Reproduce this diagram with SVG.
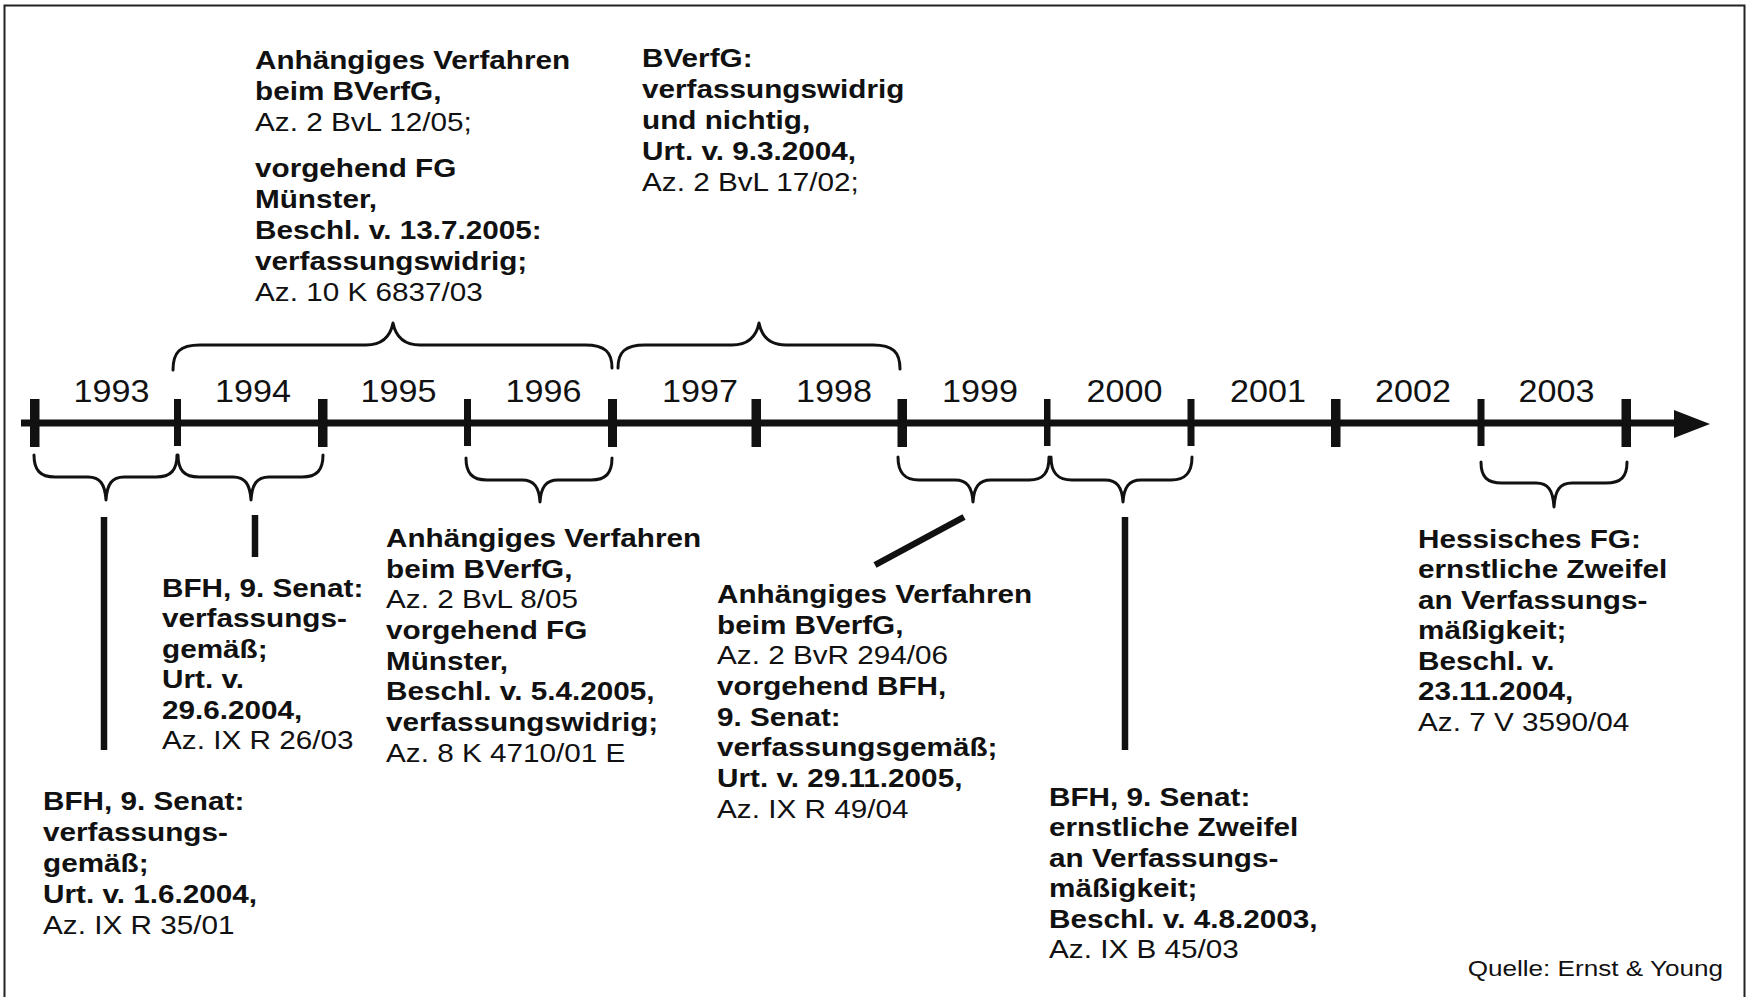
<svg xmlns="http://www.w3.org/2000/svg" width="1747" height="997" viewBox="0 0 1747 997">
<style>
  text { font-family: "Liberation Sans", Arial, sans-serif; fill: #111; }
  .t { font-size: 25.6px; }
  .b { font-weight: bold; }
  .r { font-weight: normal; }
  .yr { font-size: 30.5px; text-anchor: middle; }
  .brace { fill: none; stroke: #111; stroke-width: 3; stroke-linecap: round; stroke-linejoin: round; }
  .conn { stroke: #111; stroke-width: 6.5; stroke-linecap: butt; }
  .tick { fill: #111; }
</style>
<rect x="4.5" y="5.5" width="1740" height="1000" fill="#fff" stroke="#222" stroke-width="2"/>

<g id="timeline">
  <rect x="21" y="419.5" width="1660" height="7" fill="#111"/>
  <polygon points="1674,410 1710,424 1674,438" fill="#111"/>
  <rect class="tick" x="30" y="399" width="9.5" height="48"/>
  <rect class="tick" x="174" y="399" width="7" height="47"/>
  <rect class="tick" x="318" y="399" width="9.5" height="48"/>
  <rect class="tick" x="464" y="399" width="7" height="47"/>
  <rect class="tick" x="608" y="399" width="9" height="48"/>
  <rect class="tick" x="751.5" y="399" width="9.5" height="48"/>
  <rect class="tick" x="897.5" y="399" width="9.5" height="48"/>
  <rect class="tick" x="1044" y="399" width="6.5" height="47"/>
  <rect class="tick" x="1187.5" y="399" width="7" height="47"/>
  <rect class="tick" x="1331" y="399" width="9.5" height="48"/>
  <rect class="tick" x="1477.5" y="399" width="7" height="47"/>
  <rect class="tick" x="1621.5" y="399" width="9.5" height="48"/>
  <text class="yr" transform="translate(111.5,402) scale(1.12,1)">1993</text>
  <text class="yr" transform="translate(253,402) scale(1.12,1)">1994</text>
  <text class="yr" transform="translate(398.5,402) scale(1.12,1)">1995</text>
  <text class="yr" transform="translate(543.5,402) scale(1.12,1)">1996</text>
  <text class="yr" transform="translate(700,402) scale(1.12,1)">1997</text>
  <text class="yr" transform="translate(834,402) scale(1.12,1)">1998</text>
  <text class="yr" transform="translate(980,402) scale(1.12,1)">1999</text>
  <text class="yr" transform="translate(1124.5,402) scale(1.12,1)">2000</text>
  <text class="yr" transform="translate(1268,402) scale(1.12,1)">2001</text>
  <text class="yr" transform="translate(1413,402) scale(1.12,1)">2002</text>
  <text class="yr" transform="translate(1556.5,402) scale(1.12,1)">2003</text>
</g>

<g id="connectors">
  <path class="brace" d="M173,370 C173,352 180,345 200,345 L366,345 C381,345 390,338 393,323 C396,338 405,345 420,345 L585,345 C605,345 612,352 612,368"/>
  <path class="brace" d="M618,368 C618,352 625,345 645,345 L732,345 C747,345 756,338 759,323 C762,338 771,345 786,345 L873,345 C893,345 900,352 900,369"/>
  <path class="brace" d="M34,455 C34,470 40,477 55,477 L88,477 C100,477 105,484 106,500 C107,484 112,477 124,477 L156,477 C171,477 177,470 177,455"/>
  <path class="brace" d="M178,455 C178,470 184,477 199,477 L233,477 C245,477 250,484 251,500 C252,484 257,477 269,477 L302,477 C317,477 323,470 323,455"/>
  <path class="brace" d="M466,458 C466,473 472,480 487,480 L522,480 C534,480 539,487 540,502 C541,487 546,480 558,480 L591,480 C606,480 612,473 612,458"/>
  <path class="brace" d="M898,457 C898,472 904,480 919,480 L955,480 C967,480 972,487 973,502 C974,487 979,480 991,480 L1029,480 C1044,480 1049,472 1049,457"/>
  <path class="brace" d="M1051,457 C1051,472 1057,480 1072,480 L1105,480 C1117,480 1122,487 1123,502 C1124,487 1129,480 1141,480 L1171,480 C1186,480 1192,472 1192,457"/>
  <path class="brace" d="M1481,462 C1481,477 1487,483 1502,483 L1536,483 C1548,483 1553,490 1554,507 C1555,490 1560,483 1572,483 L1606,483 C1621,483 1627,477 1627,462"/>
  <line class="conn" x1="104" y1="517" x2="104" y2="750"/>
  <line class="conn" x1="255" y1="515" x2="255" y2="557"/>
  <line class="conn" x1="964" y1="517" x2="875" y2="565"/>
  <line class="conn" x1="1125" y1="517" x2="1125" y2="750"/>
</g>

<g id="node-top-left" transform="translate(255,69) scale(1.16,1)">
  <text class="t">
    <tspan class="b" x="0" y="0">Anhängiges Verfahren</tspan>
    <tspan class="b" x="0" y="31">beim BVerfG,</tspan>
    <tspan class="r" x="0" y="62">Az. 2 BvL 12/05;</tspan>
    <tspan class="b" x="0" y="108">vorgehend FG</tspan>
    <tspan class="b" x="0" y="139">Münster,</tspan>
    <tspan class="b" x="0" y="170">Beschl. v. 13.7.2005:</tspan>
    <tspan class="b" x="0" y="201">verfassungswidrig;</tspan>
    <tspan class="r" x="0" y="232">Az. 10 K 6837/03</tspan>
  </text>
</g>

<g id="node-top-right" transform="translate(642,67) scale(1.16,1)">
  <text class="t">
    <tspan class="b" x="0" y="0">BVerfG:</tspan>
    <tspan class="b" x="0" y="31">verfassungswidrig</tspan>
    <tspan class="b" x="0" y="62">und nichtig,</tspan>
    <tspan class="b" x="0" y="93">Urt. v. 9.3.2004,</tspan>
    <tspan class="r" x="0" y="124">Az. 2 BvL 17/02;</tspan>
  </text>
</g>

<g id="node-bfh-1993" transform="translate(43,810) scale(1.16,1)">
  <text class="t">
    <tspan class="b" x="0" y="0">BFH, 9. Senat:</tspan>
    <tspan class="b" x="0" y="31">verfassungs-</tspan>
    <tspan class="b" x="0" y="62">gemäß;</tspan>
    <tspan class="b" x="0" y="93">Urt. v. 1.6.2004,</tspan>
    <tspan class="r" x="0" y="124">Az. IX R 35/01</tspan>
  </text>
</g>

<g id="node-bfh-1994" transform="translate(162,597) scale(1.16,1)">
  <text class="t">
    <tspan class="b" x="0" y="0">BFH, 9. Senat:</tspan>
    <tspan class="b" x="0" y="30.5">verfassungs-</tspan>
    <tspan class="b" x="0" y="61">gemäß;</tspan>
    <tspan class="b" x="0" y="91.5">Urt. v.</tspan>
    <tspan class="b" x="0" y="122">29.6.2004,</tspan>
    <tspan class="r" x="0" y="152.5">Az. IX R 26/03</tspan>
  </text>
</g>

<g id="node-bverfg-1996" transform="translate(386,547) scale(1.16,1)">
  <text class="t">
    <tspan class="b" x="0" y="0">Anhängiges Verfahren</tspan>
    <tspan class="b" x="0" y="30.7">beim BVerfG,</tspan>
    <tspan class="r" x="0" y="61.4">Az. 2 BvL 8/05</tspan>
    <tspan class="b" x="0" y="92.1">vorgehend FG</tspan>
    <tspan class="b" x="0" y="122.8">Münster,</tspan>
    <tspan class="b" x="0" y="153.5">Beschl. v. 5.4.2005,</tspan>
    <tspan class="b" x="0" y="184.2">verfassungswidrig;</tspan>
    <tspan class="r" x="0" y="214.9">Az. 8 K 4710/01 E</tspan>
  </text>
</g>

<g id="node-bverfg-1999" transform="translate(717,603) scale(1.16,1)">
  <text class="t">
    <tspan class="b" x="0" y="0">Anhängiges Verfahren</tspan>
    <tspan class="b" x="0" y="30.7">beim BVerfG,</tspan>
    <tspan class="r" x="0" y="61.4">Az. 2 BvR 294/06</tspan>
    <tspan class="b" x="0" y="92.1">vorgehend BFH,</tspan>
    <tspan class="b" x="0" y="122.8">9. Senat:</tspan>
    <tspan class="b" x="0" y="153.5">verfassungsgemäß;</tspan>
    <tspan class="b" x="0" y="184.2">Urt. v. 29.11.2005,</tspan>
    <tspan class="r" x="0" y="214.9">Az. IX R 49/04</tspan>
  </text>
</g>

<g id="node-bfh-2000" transform="translate(1049,805.5) scale(1.16,1)">
  <text class="t">
    <tspan class="b" x="0" y="0">BFH, 9. Senat:</tspan>
    <tspan class="b" x="0" y="30.6">ernstliche Zweifel</tspan>
    <tspan class="b" x="0" y="61.2">an Verfassungs-</tspan>
    <tspan class="b" x="0" y="91.8">mäßigkeit;</tspan>
    <tspan class="b" x="0" y="122.4">Beschl. v. 4.8.2003,</tspan>
    <tspan class="r" x="0" y="153">Az. IX B 45/03</tspan>
  </text>
</g>

<g id="node-hessen-2003" transform="translate(1418,547.5) scale(1.16,1)">
  <text class="t">
    <tspan class="b" x="0" y="0">Hessisches FG:</tspan>
    <tspan class="b" x="0" y="30.6">ernstliche Zweifel</tspan>
    <tspan class="b" x="0" y="61.2">an Verfassungs-</tspan>
    <tspan class="b" x="0" y="91.8">mäßigkeit;</tspan>
    <tspan class="b" x="0" y="122.4">Beschl. v.</tspan>
    <tspan class="b" x="0" y="153">23.11.2004,</tspan>
    <tspan class="r" x="0" y="183.6">Az. 7 V 3590/04</tspan>
  </text>
</g>

<g id="source">
  <text transform="translate(1723,976) scale(1.16,1)" style="font-size:22.5px; text-anchor:end;">Quelle: Ernst &amp; Young</text>
</g>
</svg>
